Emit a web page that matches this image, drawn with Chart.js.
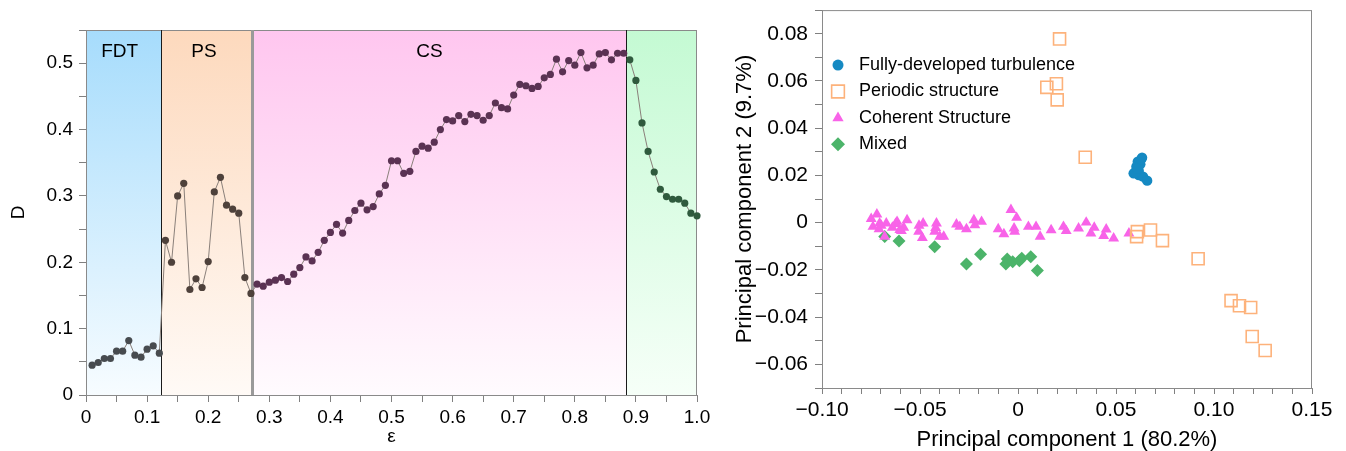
<!DOCTYPE html>
<html>
<head>
<meta charset="utf-8">
<script src="https://cdn.jsdelivr.net/npm/chart.js@4.4.0/dist/chart.umd.min.js"></script>
<style>
  html, body { margin: 0; padding: 0; background: #fff; }
  #left { position: absolute; left: 0; top: 0; width: 720px; height: 451px; }
  #right { position: absolute; left: 720px; top: 0; width: 626px; height: 451px; }
</style>
</head>
<body>
<div id="left"><canvas id="phaseChart"></canvas></div>
<div id="right"><canvas id="pcaChart"></canvas></div>
<script>
const FONT = '"Liberation Sans", Arial, Helvetica, sans-serif';

// ---- left panel: D versus epsilon ----
const epsilon = [
  0.01, 0.02, 0.03, 0.04, 0.05, 0.06, 0.07, 0.08, 0.09, 0.10,
  0.11, 0.12, 0.13, 0.14, 0.15, 0.16, 0.17, 0.18, 0.19, 0.20,
  0.21, 0.22, 0.23, 0.24, 0.25, 0.26, 0.27, 0.28, 0.29, 0.30,
  0.31, 0.32, 0.33, 0.34, 0.35, 0.36, 0.37, 0.38, 0.39, 0.40,
  0.41, 0.42, 0.43, 0.44, 0.45, 0.46, 0.47, 0.48, 0.49, 0.50,
  0.51, 0.52, 0.53, 0.54, 0.55, 0.56, 0.57, 0.58, 0.59, 0.60,
  0.61, 0.62, 0.63, 0.64, 0.65, 0.66, 0.67, 0.68, 0.69, 0.70,
  0.71, 0.72, 0.73, 0.74, 0.75, 0.76, 0.77, 0.78, 0.79, 0.80,
  0.81, 0.82, 0.83, 0.84, 0.85, 0.86, 0.87, 0.88, 0.89, 0.90,
  0.91, 0.92, 0.93, 0.94, 0.95, 0.96, 0.97, 0.98, 0.99, 1.00
];
const dValues = [
  0.045, 0.049, 0.055, 0.055, 0.066, 0.066, 0.082, 0.060, 0.057, 0.069,
  0.074, 0.063, 0.233, 0.200, 0.300, 0.319, 0.159, 0.175, 0.162, 0.201,
  0.306, 0.328, 0.286, 0.280, 0.274, 0.177, 0.153, 0.167, 0.164, 0.170,
  0.173, 0.177, 0.171, 0.182, 0.192, 0.208, 0.202, 0.215, 0.233, 0.245,
  0.257, 0.244, 0.263, 0.278, 0.289, 0.279, 0.284, 0.303, 0.316, 0.353,
  0.353, 0.334, 0.337, 0.367, 0.375, 0.372, 0.381, 0.400, 0.415, 0.413,
  0.421, 0.412, 0.423, 0.421, 0.414, 0.421, 0.440, 0.433, 0.431, 0.452,
  0.468, 0.466, 0.462, 0.465, 0.478, 0.483, 0.506, 0.487, 0.504, 0.497,
  0.516, 0.493, 0.497, 0.514, 0.516, 0.505, 0.515, 0.515, 0.505, 0.474,
  0.410, 0.367, 0.336, 0.310, 0.299, 0.295, 0.295, 0.289, 0.274, 0.270
];
const regionEdges = [0, 0.123, 0.271, 0.884, 1.0];
const regionNames = ['FDT', 'PS', 'CS', ''];
const regionLabelAt = [0.055, 0.193, 0.562, 0.94];

// ---- right panel: PCA scatter ----
const seriesNames = ['Fully-developed turbulence', 'Periodic structure', 'Coherent Structure', 'Mixed'];
const fdtPc1 = [0.0633, 0.0611, 0.0604, 0.0616, 0.0590, 0.0616, 0.0638, 0.0659, 0.0624, 0.0599, 0.0628, 0.0608];
const fdtPc2 = [0.0275, 0.0258, 0.0237, 0.0219, 0.0209, 0.0202, 0.0195, 0.0178, 0.0247, 0.0213, 0.0268, 0.0228];
const psPc1 = [0.0212, 0.0147, 0.0196, 0.0200, 0.0343, 0.0609, 0.0605, 0.0676, 0.0737, 0.0919, 0.1087, 0.1130, 0.1187, 0.1195, 0.1261];
const psPc2 = [0.0778, 0.0573, 0.0588, 0.0520, 0.0277, -0.0038, -0.0059, -0.0031, -0.0076, -0.0153, -0.0330, -0.0352, -0.0359, -0.0482, -0.0541];
const csPc1 = [
  -0.0749, -0.0720, -0.0740, -0.0706, -0.0709, -0.0680, -0.0672, -0.0641, -0.0617, -0.0595,
  -0.0583, -0.0566, -0.0507, -0.0484, -0.0488, -0.0425, -0.0416, -0.0399, -0.0379, -0.0314,
  -0.0297, -0.0263, -0.0225, -0.0220, -0.0186, -0.0101, -0.0072, -0.0036, -0.0007, -0.0020,
  -0.0017, 0.0053, 0.0092, 0.0113, 0.0169, 0.0232, 0.0246, 0.0309, 0.0348, 0.0372,
  0.0389, 0.0450, 0.0437, 0.0488, 0.0566, -0.0698, -0.0625, -0.0505, -0.0420, -0.0603
];
const csPc2 = [
  0.0016, 0.0035, -0.0017, -0.0003, -0.0027, -0.0059, -0.0003, -0.0021, 0.0004, -0.0035,
  -0.0021, 0.0011, -0.0038, -0.0003, -0.0064, -0.0038, -0.0003, -0.0059, -0.0059, -0.0007,
  -0.0017, -0.0027, 0.0011, -0.0010, 0.0004, -0.0027, -0.0048, 0.0054, 0.0021, -0.0024,
  -0.0038, -0.0017, -0.0017, -0.0059, -0.0031, -0.0017, -0.0035, -0.0024, 0.0001, -0.0045,
  -0.0021, -0.0028, -0.0056, -0.0066, -0.0045, -0.0012, -0.0005, -0.0012, -0.0022, -0.0030
];
const mixPc1 = [-0.0680, -0.0607, -0.0425, -0.0263, -0.0191, -0.0055, -0.0062, -0.0027, 0.0007, 0.0019, 0.0065, 0.0099];
const mixPc2 = [-0.0059, -0.0078, -0.0102, -0.0175, -0.0134, -0.0154, -0.0175, -0.0165, -0.0161, -0.0151, -0.0144, -0.0203];

// ---------------- styling helpers ----------------
const regionTop = ['#a6dcfc', '#fdd9bd', '#ffc6ef', '#c4fad3'];
const regionBottom = ['#f7fcff', '#fffaf6', '#fffbfe', '#f6fff8'];
const regionDot = ['#474b4f', '#4e413b', '#5a3253', '#2f5a3d'];
const dividerColor = ['#1a1a1a', '#9a9a9a', '#1a1a1a'];
const dividerWidth = [1, 3, 1];

function regionIndex(x) {
  for (let i = 1; i < regionEdges.length; i++) {
    if (x <= regionEdges[i]) return i - 1;
  }
  return regionEdges.length - 2;
}

function hundredths(v) {
  return Math.round(v * 100);
}

const regionPlugin = {
  id: 'regions',
  beforeDraw(chart) {
    const {ctx, chartArea: a, scales: {x}} = chart;
    ctx.save();
    for (let i = 0; i < regionNames.length; i++) {
      const x1 = x.getPixelForValue(regionEdges[i]);
      const x2 = x.getPixelForValue(regionEdges[i + 1]);
      const g = ctx.createLinearGradient(0, a.top, 0, a.bottom);
      g.addColorStop(0, regionTop[i]);
      g.addColorStop(1, regionBottom[i]);
      ctx.fillStyle = g;
      ctx.fillRect(x1, a.top, x2 - x1, a.bottom - a.top);
    }
    ctx.restore();
  },
  beforeDatasetsDraw(chart) {
    const {ctx, chartArea: a, scales: {x}} = chart;
    ctx.save();
    // frame
    ctx.strokeStyle = '#8a8a8a';
    ctx.lineWidth = 1;
    ctx.strokeRect(a.left + 0.5, a.top + 0.5, a.right - a.left - 1, a.bottom - a.top);
    // dividers between regimes
    for (let i = 1; i < regionEdges.length - 1; i++) {
      const px = Math.round(x.getPixelForValue(regionEdges[i])) + 0.5;
      ctx.strokeStyle = dividerColor[i - 1];
      ctx.lineWidth = dividerWidth[i - 1];
      ctx.beginPath();
      ctx.moveTo(px, a.top);
      ctx.lineTo(px, a.bottom);
      ctx.stroke();
    }
    // regime names
    ctx.fillStyle = '#000';
    ctx.font = '19px ' + FONT;
    ctx.textAlign = 'center';
    ctx.textBaseline = 'middle';
    regionNames.forEach((name, i) => {
      if (name) ctx.fillText(name, x.getPixelForValue(regionLabelAt[i]), a.top + 22);
    });
    ctx.restore();
  }
};

new Chart(document.getElementById('phaseChart'), {
  type: 'line',
  data: {
    datasets: [{
      data: epsilon.map((e, i) => ({x: e, y: dValues[i]})),
      borderColor: '#8a807a',
      borderWidth: 1,
      tension: 0,
      pointRadius: 3.6,
      pointBorderWidth: 0,
      pointBackgroundColor: (c) => regionDot[regionIndex(c.raw.x)],
      clip: false
    }]
  },
  options: {
    responsive: true,
    maintainAspectRatio: false,
    animation: false,
    layout: { padding: { top: 30, right: 23, left: 0, bottom: 0 } },
    plugins: { legend: { display: false }, tooltip: { enabled: false } },
    scales: {
      x: {
        type: 'linear',
        min: 0,
        max: 1,
        afterFit: (s) => { s.height = 56; },
        ticks: {
          stepSize: 0.05,
          autoSkip: false,
          maxRotation: 0,
          padding: 4,
          color: '#000',
          font: { size: 19, family: FONT },
          callback: (v) => {
            const k = hundredths(v);
            if (k % 10 !== 0) return '';
            return k === 0 ? '0' : (k / 100).toFixed(1);
          }
        },
        grid: { drawOnChartArea: false, drawTicks: true, tickLength: 7, color: '#808080' },
        border: { color: '#8a8a8a' },
        title: { display: true, text: 'ε', color: '#000', font: { size: 19, family: FONT }, padding: { top: 0, bottom: 3 } }
      },
      y: {
        min: 0,
        max: 0.55,
        afterFit: (s) => { s.width = 86; },
        ticks: {
          stepSize: 0.05,
          autoSkip: false,
          padding: 6,
          color: '#000',
          font: { size: 19, family: FONT },
          callback: (v) => {
            const k = hundredths(v);
            if (k % 10 !== 0) return '';
            return k === 0 ? '0' : (k / 100).toFixed(1);
          }
        },
        grid: { drawOnChartArea: false, drawTicks: true, tickLength: 7, color: '#808080' },
        border: { color: '#8a8a8a' },
        title: { display: true, text: 'D', color: '#000', font: { size: 19, family: FONT }, padding: { top: 7, bottom: 0 } }
      }
    }
  },
  plugins: [regionPlugin]
});

// ---------------- right panel ----------------
const framePlugin = {
  id: 'frame',
  beforeDatasetsDraw(chart) {
    const {ctx, chartArea: a} = chart;
    ctx.save();
    ctx.strokeStyle = '#8a8a8a';
    ctx.lineWidth = 1;
    ctx.strokeRect(a.left + 0.5, a.top + 0.5, a.right - a.left - 1, a.bottom - a.top);
    ctx.restore();
  }
};

const pcaLegend = {
  id: 'pcaLegend',
  afterDatasetsDraw(chart, args, opts) {
    const {ctx, chartArea: a} = chart;
    const x0 = a.left + 16;
    const y0 = a.top + 55;
    ctx.save();
    chart.data.datasets.forEach((ds, i) => {
      const y = y0 + i * 26.4;
      ctx.fillStyle = ds.backgroundColor;
      ctx.strokeStyle = ds.borderColor;
      ctx.lineWidth = ds.borderWidth;
      Chart.helpers.drawPoint(ctx, {
        pointStyle: ds.pointStyle,
        radius: opts.radii[i],
        rotation: 0,
        borderWidth: ds.borderWidth
      }, x0, y);
      ctx.fillStyle = '#000';
      ctx.font = '18px ' + FONT;
      ctx.textAlign = 'left';
      ctx.textBaseline = 'middle';
      ctx.fillText(ds.label, x0 + 21, y);
    });
    ctx.restore();
  }
};

function pairs(xs, ys) {
  return xs.map((v, i) => ({x: v, y: ys[i]}));
}

function pcaLabel(v, every) {
  const k = hundredths(v);
  if (k % every !== 0) return '';
  if (k === 0) return '0';
  return (k < 0 ? '\u2212' : '') + (Math.abs(k) / 100).toFixed(2);
}

new Chart(document.getElementById('pcaChart'), {
  type: 'scatter',
  data: {
    datasets: [
      {
        label: seriesNames[0],
        data: pairs(fdtPc1, fdtPc2),
        pointStyle: 'circle',
        pointRadius: 5.2,
        backgroundColor: '#1589c2',
        borderColor: '#1589c2',
        borderWidth: 0
      },
      {
        label: seriesNames[1],
        data: pairs(psPc1, psPc2),
        pointStyle: 'rect',
        pointRadius: 8.5,
        backgroundColor: 'rgba(255,255,255,0)',
        borderColor: '#fdb27b',
        borderWidth: 1.6
      },
      {
        label: seriesNames[2],
        data: pairs(csPc1, csPc2),
        pointStyle: 'triangle',
        pointRadius: 6.3,
        backgroundColor: '#f863e8',
        borderColor: '#f863e8',
        borderWidth: 0
      },
      {
        label: seriesNames[3],
        data: pairs(mixPc1, mixPc2),
        pointStyle: 'rectRot',
        pointRadius: 6.5,
        backgroundColor: '#4cb46a',
        borderColor: '#4cb46a',
        borderWidth: 0
      }
    ]
  },
  options: {
    responsive: true,
    maintainAspectRatio: false,
    animation: false,
    layout: { padding: { top: 8, right: 34, left: 0, bottom: 0 } },
    plugins: {
      legend: { display: false },
      tooltip: { enabled: false },
      pcaLegend: { radii: [5.5, 9, 6.5, 7] }
    },
    scales: {
      x: {
        type: 'linear',
        min: -0.10,
        max: 0.15,
        afterFit: (s) => { s.height = 63; },
        ticks: {
          stepSize: 0.01,
          autoSkip: false,
          maxRotation: 0,
          padding: 4,
          color: '#000',
          font: { size: 21, family: FONT },
          callback: (v) => pcaLabel(v, 5)
        },
        grid: { drawOnChartArea: false, drawTicks: true, tickLength: 6, color: '#808080' },
        border: { color: '#8a8a8a' },
        title: {
          display: true,
          text: 'Principal component 1 (80.2%)',
          color: '#000',
          font: { size: 22, family: FONT, lineHeight: 1 },
          padding: { top: 0, bottom: 0 }
        }
      },
      y: {
        min: -0.07,
        max: 0.09,
        afterFit: (s) => { s.width = 102; s.paddingTop = 0; s.paddingBottom = 0; },
        ticks: {
          stepSize: 0.01,
          autoSkip: false,
          padding: 7,
          color: '#000',
          font: { size: 21, family: FONT },
          callback: (v) => pcaLabel(v, 2)
        },
        grid: { drawOnChartArea: false, drawTicks: true, tickLength: 7, color: '#808080' },
        border: { color: '#8a8a8a' },
        title: {
          display: true,
          text: 'Principal component 2 (9.7%)',
          color: '#000',
          font: { size: 22, family: FONT },
          padding: { top: 12, bottom: 0 }
        }
      }
    }
  },
  plugins: [framePlugin, pcaLegend]
});
</script>
</body>
</html>
